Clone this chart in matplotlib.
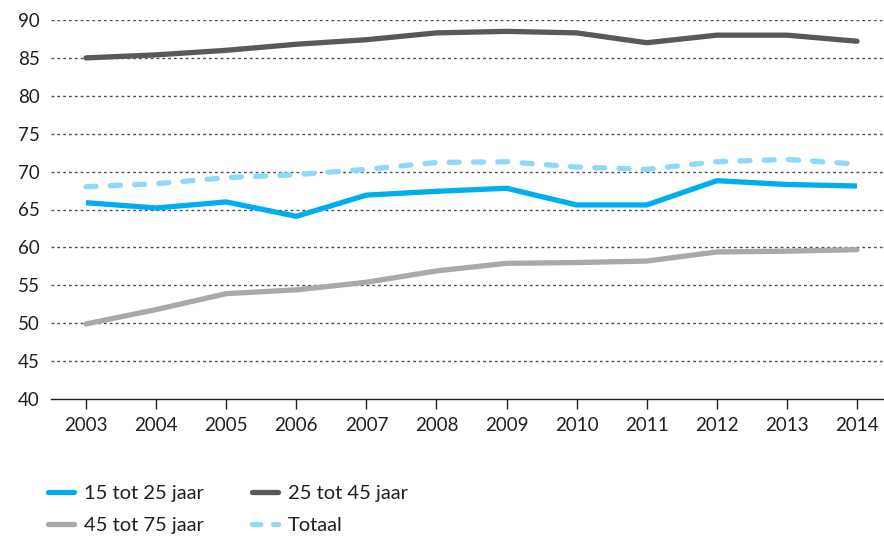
import matplotlib
matplotlib.use("Agg")
import matplotlib.pyplot as plt
from matplotlib.lines import Line2D

years = [2003, 2004, 2005, 2006, 2007, 2008, 2009, 2010, 2011, 2012, 2013, 2014]
s15_25 = [65.9, 65.2, 66.0, 64.1, 66.9, 67.4, 67.8, 65.6, 65.6, 68.8, 68.3, 68.1]
s25_45 = [85.0, 85.4, 86.0, 86.8, 87.4, 88.3, 88.5, 88.3, 87.0, 88.0, 88.0, 87.2]
s45_75 = [49.9, 51.8, 53.9, 54.4, 55.4, 56.9, 57.9, 58.0, 58.2, 59.4, 59.5, 59.7]
totaal = [68.0, 68.4, 69.2, 69.6, 70.3, 71.2, 71.3, 70.6, 70.3, 71.3, 71.6, 71.0]
labels = ["15 tot 25 jaar", "25 tot 45 jaar", "45 tot 75 jaar", "Totaal"]
yticks = [40, 45, 50, 55, 60, 65, 70, 75, 80, 85, 90]

plt.rcParams['font.family'] = ['Lato', 'DejaVu Sans']
txt = '#231f20'

fig = plt.figure(figsize=(8.84, 5.38), dpi=100)
ax = fig.add_axes([51/884, 1-399/538, 1-51/884, (399-20)/538])

c_blue = '#00aeef'
c_dark = '#58595b'
c_grey = '#a7a9ac'
c_light = '#8fd8f8'
lw = 3.8

ax.plot(years, s25_45, color=c_dark, lw=lw, solid_capstyle='round', zorder=3)
ax.plot(years, s45_75, color=c_grey, lw=lw, solid_capstyle='round', zorder=3)
ax.plot(years, totaal, color=c_light, lw=lw, dashes=(1.9, 2.7), dash_capstyle='round', zorder=3)
ax.plot(years, s15_25, color=c_blue, lw=lw, solid_capstyle='butt', zorder=4)

ax.set_ylim(40, 90)
ax.set_xlim(2002.5, 2014.385)
ax.set_yticks(yticks)
ax.set_xticks(years)
ax.set_xticklabels([str(y) for y in years])
for y in yticks[1:]:
    ax.axhline(y, color='#4d4d4d', lw=1.0, linestyle=(0, (2, 2.2)), zorder=1)

for s in ['top', 'right', 'left']:
    ax.spines[s].set_visible(False)
ax.spines['bottom'].set_color(txt)
ax.spines['bottom'].set_linewidth(1.0)
ax.tick_params(axis='y', length=0, pad=8, labelsize=13.5, colors=txt)
ax.tick_params(axis='x', length=7, width=1.0, direction='out', pad=6, labelsize=13.5, colors=txt)

h15 = Line2D([], [], color=c_blue, lw=lw, solid_capstyle='round')
h25 = Line2D([], [], color=c_dark, lw=lw, solid_capstyle='round')
h45 = Line2D([], [], color=c_grey, lw=lw, solid_capstyle='round')
htot = Line2D([], [], color=c_light, lw=lw, dashes=(1.6, 2.4), dash_capstyle='round')
fig.legend([h15, h45, h25, htot], [labels[0], labels[2], labels[1], labels[3]],
           ncol=2, loc='lower left', bbox_to_anchor=(30/884, -14/538),
           frameon=False, fontsize=14.5, handlelength=1.3, handletextpad=0.5,
           columnspacing=2.35, labelspacing=0.75, labelcolor=txt)

fig.savefig('out.png', dpi=100)
